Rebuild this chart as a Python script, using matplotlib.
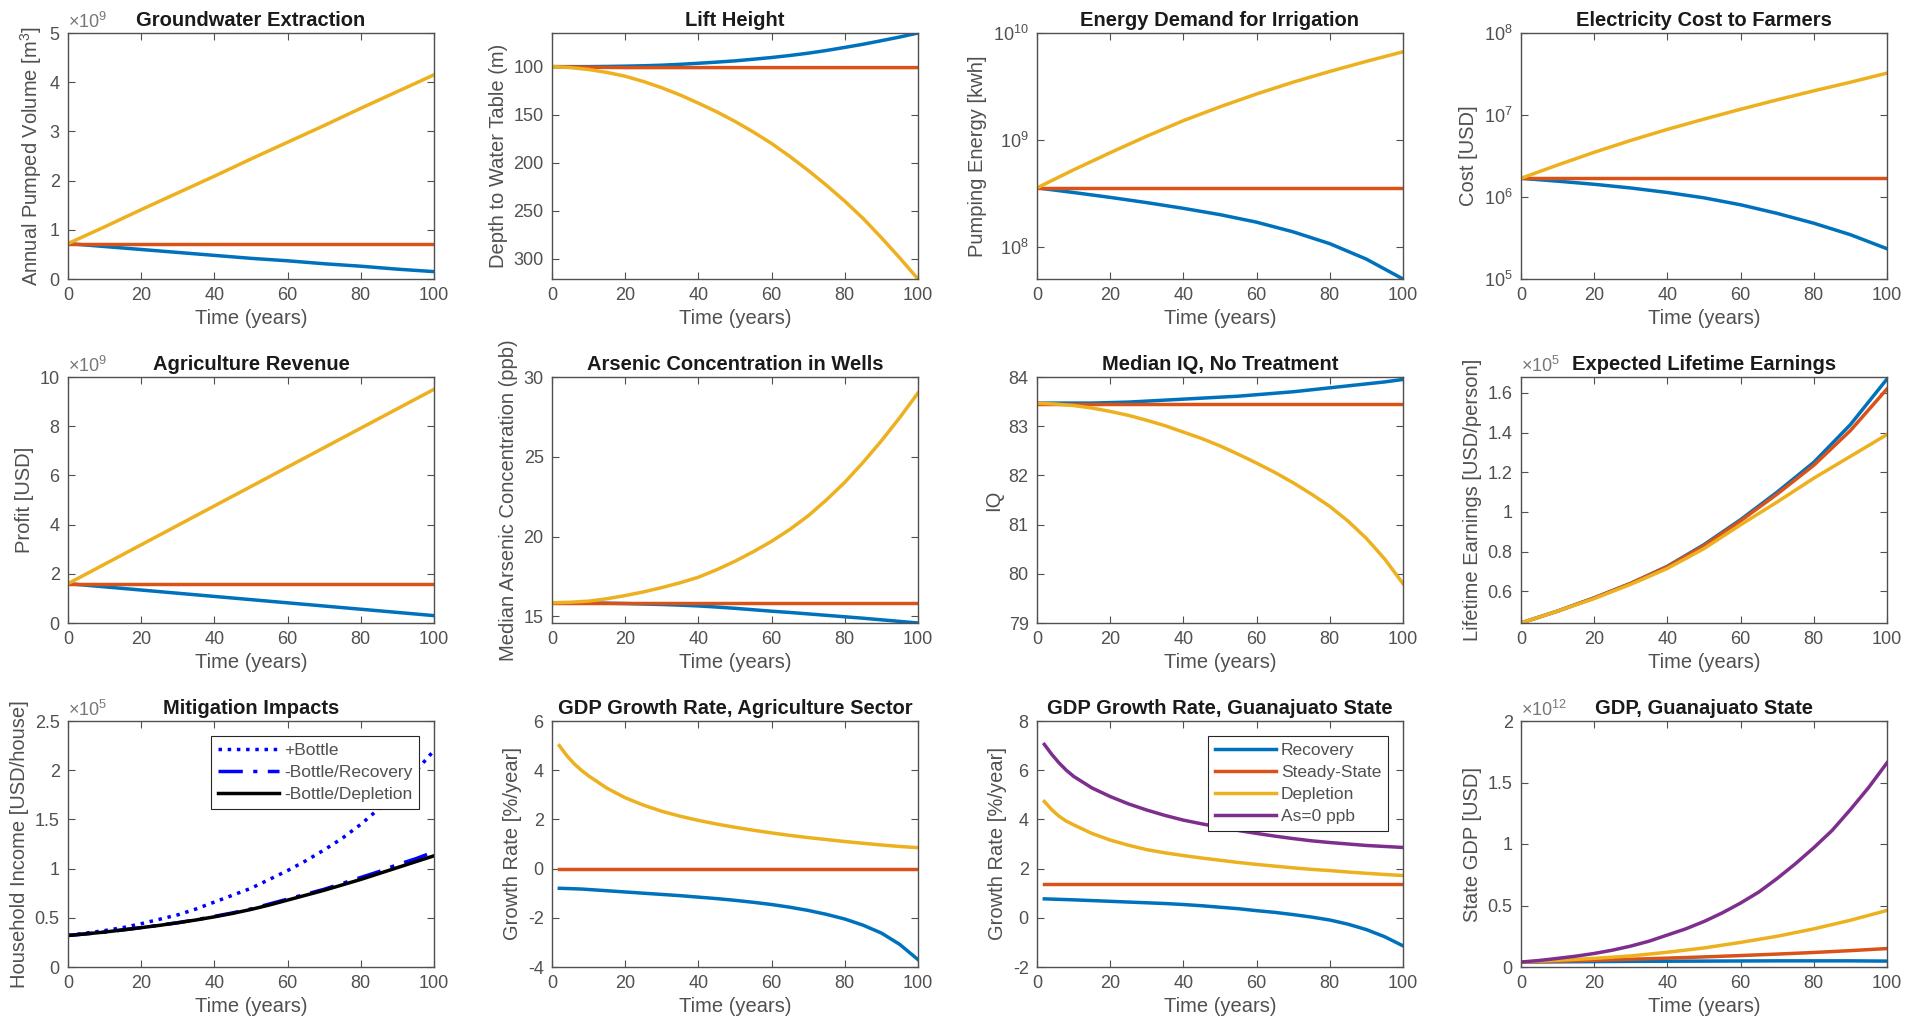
import numpy as np
import matplotlib
matplotlib.use('Agg')
import matplotlib.pyplot as plt
from matplotlib.ticker import FuncFormatter, NullLocator, FixedLocator

plt.rcParams['font.family'] = ['Liberation Sans', 'DejaVu Sans']
plt.rcParams['mathtext.fontset'] = 'custom'
plt.rcParams['mathtext.rm'] = 'Liberation Sans'
plt.rcParams['mathtext.it'] = 'Liberation Sans'

# MATLAB default line colours
BLUE = '#0072BD'
RED = '#D95319'
YELLOW = '#EDB120'
PURPLE = '#7E2F8E'
GREY = '#505050'

# time axes (years)
t = [0, 10, 20, 30, 40, 50, 60, 70, 80, 90, 100]
t5 = [0, 5, 10, 15, 20, 25, 30, 35, 40, 45, 50, 55, 60, 65, 70, 75, 80, 85, 90, 95, 100]
t_rate = [2, 4, 6, 8, 10, 15, 20, 25, 30, 35, 40, 45, 50, 55, 60, 65, 70, 75, 80, 85, 90, 95, 100]

# Groundwater Extraction (x1e9 m3)
pump_rec = [0.72, 0.66, 0.60, 0.54, 0.48, 0.42, 0.37, 0.31, 0.26, 0.20, 0.15]
pump_ss = [0.72, 0.72, 0.72, 0.72, 0.72, 0.72, 0.72, 0.72, 0.72, 0.72, 0.72]
pump_dep = [0.72, 1.06, 1.41, 1.75, 2.09, 2.44, 2.78, 3.12, 3.47, 3.81, 4.15]

# Lift Height (m), every 5 years
lift_rec = [100, 100, 100, 99.8, 99.5, 99.1, 98.5, 97.6, 96.5, 95.3, 94, 92.3, 90.5, 88.4,
            86, 83.2, 80, 76.7, 73, 69.2, 65]
lift_ss = [100, 100.3, 100.6, 100.8, 101, 101, 101, 101, 101, 101, 101, 101, 101, 101,
           101, 101, 101, 101, 101, 101, 101]
lift_dep = [100, 101, 103, 106, 110, 115.5, 122, 129.5, 138, 147, 157, 168, 180, 193.5,
            208, 223.5, 240, 258, 278, 299, 321]

# Energy Demand for Irrigation (kwh)
energy_rec = [3.56e8, 3.22e8, 2.90e8, 2.59e8, 2.29e8, 2.00e8, 1.70e8, 1.38e8, 1.07e8, 7.67e7, 5.0e7]
energy_ss = [3.56e8] * 11
energy_dep = [3.56e8, 5.25e8, 7.59e8, 1.084e9, 1.514e9, 2.04e9, 2.69e9, 3.47e9, 4.37e9, 5.43e9, 6.67e9]

# Electricity Cost to Farmers (USD)
cost_rec = [1.69e6, 1.56e6, 1.429e6, 1.288e6, 1.135e6, 9.77e5, 8.04e5, 6.31e5, 4.79e5, 3.47e5, 2.34e5]
cost_ss = [1.69e6] * 11
cost_dep = [1.69e6, 2.455e6, 3.51e6, 4.90e6, 6.68e6, 8.91e6, 1.175e7, 1.531e7, 1.972e7, 2.51e7, 3.24e7]

# Agriculture Revenue (x1e9 USD)
rev_rec = [1.6, 1.47, 1.34, 1.21, 1.08, 0.95, 0.82, 0.69, 0.56, 0.43, 0.30]
rev_ss = [1.6] * 11
rev_dep = [1.6, 2.39, 3.18, 3.97, 4.76, 5.55, 6.34, 7.13, 7.92, 8.71, 9.5]

# Arsenic Concentration in Wells (ppb), every 5 years
as_rec = [15.85, 15.85, 15.84, 15.82, 15.8, 15.77, 15.74, 15.7, 15.65, 15.58, 15.5, 15.41,
          15.32, 15.24, 15.15, 15.06, 14.97, 14.88, 14.78, 14.68, 14.58]
as_ss = [15.85] * 21
as_dep = [15.85, 15.88, 15.95, 16.1, 16.3, 16.53, 16.8, 17.1, 17.45, 17.92, 18.45, 19.05,
          19.7, 20.45, 21.3, 22.3, 23.4, 24.65, 26.0, 27.45, 29.0]

# Median IQ, No Treatment, every 5 years
iq_rec = [83.47, 83.47, 83.47, 83.47, 83.48, 83.49, 83.51, 83.53, 83.55, 83.57, 83.59, 83.61,
          83.64, 83.67, 83.70, 83.74, 83.78, 83.82, 83.86, 83.9, 83.95]
iq_ss = [83.45] * 21
iq_dep = [83.47, 83.45, 83.42, 83.37, 83.30, 83.22, 83.12, 83.01, 82.88, 82.75, 82.6, 82.43,
          82.25, 82.06, 81.85, 81.62, 81.37, 81.07, 80.72, 80.3, 79.8]

# Expected Lifetime Earnings (x1e5 USD/person)
earn_rec = [0.44, 0.50, 0.567, 0.64, 0.726, 0.835, 0.961, 1.10, 1.25, 1.44, 1.67]
earn_ss = [0.44, 0.50, 0.566, 0.64, 0.724, 0.83, 0.955, 1.09, 1.235, 1.41, 1.62]
earn_dep = [0.44, 0.50, 0.563, 0.635, 0.715, 0.815, 0.935, 1.05, 1.17, 1.28, 1.39]

# Mitigation Impacts (x1e5 USD/house), every 5 years
mit_labels = ['+Bottle', '-Bottle/Recovery', '-Bottle/Depletion']
mit_bottle = [0.32, 0.345, 0.37, 0.40, 0.44, 0.485, 0.53, 0.59, 0.66, 0.73, 0.80, 0.89,
              0.98, 1.08, 1.19, 1.31, 1.45, 1.61, 1.79, 1.99, 2.2]
mit_rec = [0.32, 0.337, 0.355, 0.377, 0.40, 0.425, 0.45, 0.48, 0.515, 0.55, 0.59, 0.64,
           0.69, 0.74, 0.79, 0.85, 0.91, 0.97, 1.04, 1.10, 1.17]
mit_dep = [0.32, 0.337, 0.355, 0.377, 0.40, 0.423, 0.45, 0.478, 0.51, 0.545, 0.585, 0.63,
           0.68, 0.73, 0.78, 0.835, 0.89, 0.95, 1.01, 1.07, 1.13]

# GDP Growth Rate, Agriculture Sector (%/year)
agr_rec = [-0.8, -0.81, -0.82, -0.83, -0.85, -0.9, -0.95, -1.0, -1.05, -1.1, -1.16, -1.22,
           -1.29, -1.37, -1.46, -1.57, -1.7, -1.86, -2.05, -2.3, -2.62, -3.08, -3.7]
agr_ss = [0.0] * 23
agr_dep = [5.0, 4.6, 4.27, 4.0, 3.77, 3.27, 2.88, 2.58, 2.33, 2.13, 1.96, 1.81, 1.68, 1.56,
           1.45, 1.35, 1.26, 1.18, 1.10, 1.03, 0.96, 0.9, 0.85]

# GDP Growth Rate, Guanajuato State (%/year)
scen_labels = ['Recovery', 'Steady-State', 'Depletion', 'As=0 ppb']
gto_rec = [0.77, 0.76, 0.75, 0.74, 0.73, 0.7, 0.67, 0.64, 0.61, 0.58, 0.54, 0.49, 0.43,
           0.37, 0.29, 0.22, 0.13, 0.03, -0.09, -0.26, -0.48, -0.77, -1.14]
gto_ss = [1.36] * 23
gto_dep = [4.73, 4.4, 4.13, 3.93, 3.78, 3.43, 3.16, 2.95, 2.77, 2.64, 2.53, 2.43, 2.34,
           2.25, 2.17, 2.1, 2.03, 1.97, 1.92, 1.86, 1.81, 1.76, 1.72]
gto_as0 = [7.05, 6.65, 6.3, 6.0, 5.75, 5.28, 4.93, 4.63, 4.38, 4.16, 3.97, 3.82, 3.68,
           3.55, 3.43, 3.32, 3.22, 3.13, 3.06, 3.0, 2.94, 2.9, 2.86]

# GDP, Guanajuato State (x1e12 USD)
gdp_rec = [0.04, 0.042, 0.044, 0.046, 0.047, 0.048, 0.049, 0.05, 0.05, 0.05, 0.048]
gdp_ss = [0.04, 0.047, 0.055, 0.063, 0.072, 0.082, 0.093, 0.105, 0.118, 0.133, 0.15]
gdp_dep = [0.04, 0.055, 0.07, 0.09, 0.12, 0.155, 0.2, 0.25, 0.31, 0.38, 0.46]
gdp_as0 = [0.04, 0.053, 0.07, 0.088, 0.11, 0.137, 0.17, 0.21, 0.26, 0.31, 0.37, 0.44,
           0.52, 0.61, 0.72, 0.84, 0.97, 1.11, 1.28, 1.46, 1.66]

LW = 2.5
fig = plt.figure(figsize=(19.07, 10.29), dpi=100)

col_left = [68, 552, 1037, 1521]
row_top = [33, 377, 721]
W, H = 366, 246


def make_axes(r, c, title, ylabel, scale=None):
    ax = fig.add_axes([col_left[c] / 1907, 1 - (row_top[r] + H) / 1029, W / 1907, H / 1029])
    ax.set_title(title, fontsize=14.5, fontweight='bold', color='#1a1a1a', pad=5)
    ax.set_xlabel('Time (years)', fontsize=14.5, color=GREY, labelpad=3)
    ax.set_ylabel(ylabel, fontsize=14.5, color=GREY, labelpad=4)
    ax.set_xlim(0, 100)
    ax.set_xticks([0, 20, 40, 60, 80, 100])
    ax.tick_params(direction='in', top=True, right=True, length=5, width=0.8,
                   labelsize=13, colors=GREY, pad=6)
    for s in ax.spines.values():
        s.set_color(GREY)
        s.set_linewidth(1.0)
    if scale is not None:
        ax.text(0, 1.005, r'$\times10^{%d}$' % scale, transform=ax.transAxes,
                ha='left', va='bottom', fontsize=13, color='#777777')
    return ax


def lin_ticks(ax, lo, hi, ticks):
    ax.set_ylim(lo, hi)
    ax.yaxis.set_major_locator(FixedLocator(ticks))
    ax.yaxis.set_major_formatter(FuncFormatter(lambda v, p: '%g' % round(v, 6)))


def log_ticks(ax, lo, hi):
    ax.set_yscale('log')
    ax.set_ylim(lo, hi)
    ax.yaxis.set_minor_locator(NullLocator())


def matlab_legend(ax):
    leg = ax.legend(loc='upper right', fontsize=12.5, fancybox=False, framealpha=1,
                    edgecolor='#262626', borderaxespad=0.85, handlelength=3.5,
                    handletextpad=0.3, labelspacing=0.4, borderpad=0.4)
    leg.get_frame().set_linewidth(0.8)
    for txt in leg.get_texts():
        txt.set_color(GREY)


# row 1
ax = make_axes(0, 0, 'Groundwater Extraction', 'Annual Pumped Volume [m$^3$]', 9)
ax.plot(t, pump_rec, color=BLUE, lw=LW)
ax.plot(t, pump_ss, color=RED, lw=LW)
ax.plot(t, pump_dep, color=YELLOW, lw=LW)
lin_ticks(ax, 0, 5, [0, 1, 2, 3, 4, 5])

ax = make_axes(0, 1, 'Lift Height', 'Depth to Water Table (m)')
ax.plot(t5, lift_rec, color=BLUE, lw=LW)
ax.plot(t5, lift_ss, color=RED, lw=LW)
ax.plot(t5, lift_dep, color=YELLOW, lw=LW)
lin_ticks(ax, 321, 65, [100, 150, 200, 250, 300])

ax = make_axes(0, 2, 'Energy Demand for Irrigation', 'Pumping Energy [kwh]')
ax.plot(t, energy_rec, color=BLUE, lw=LW)
ax.plot(t, energy_ss, color=RED, lw=LW)
ax.plot(t, energy_dep, color=YELLOW, lw=LW)
log_ticks(ax, 5e7, 1e10)

ax = make_axes(0, 3, 'Electricity Cost to Farmers', 'Cost [USD]')
ax.plot(t, cost_rec, color=BLUE, lw=LW)
ax.plot(t, cost_ss, color=RED, lw=LW)
ax.plot(t, cost_dep, color=YELLOW, lw=LW)
log_ticks(ax, 1e5, 1e8)

# row 2
ax = make_axes(1, 0, 'Agriculture Revenue', 'Profit [USD]', 9)
ax.plot(t, rev_rec, color=BLUE, lw=LW)
ax.plot(t, rev_ss, color=RED, lw=LW)
ax.plot(t, rev_dep, color=YELLOW, lw=LW)
lin_ticks(ax, 0, 10, [0, 2, 4, 6, 8, 10])

ax = make_axes(1, 1, 'Arsenic Concentration in Wells', 'Median Arsenic Concentration (ppb)')
ax.plot(t5, as_rec, color=BLUE, lw=LW)
ax.plot(t5, as_ss, color=RED, lw=LW)
ax.plot(t5, as_dep, color=YELLOW, lw=LW)
lin_ticks(ax, 14.58, 30, [15, 20, 25, 30])

ax = make_axes(1, 2, 'Median IQ, No Treatment', 'IQ')
ax.plot(t5, iq_rec, color=BLUE, lw=LW)
ax.plot(t5, iq_ss, color=RED, lw=LW)
ax.plot(t5, iq_dep, color=YELLOW, lw=LW)
lin_ticks(ax, 79, 84, [79, 80, 81, 82, 83, 84])

ax = make_axes(1, 3, 'Expected Lifetime Earnings', 'Lifetime Earnings [USD/person]', 5)
ax.plot(t, earn_rec, color=BLUE, lw=LW)
ax.plot(t, earn_ss, color=RED, lw=LW)
ax.plot(t, earn_dep, color=YELLOW, lw=LW)
lin_ticks(ax, 0.44, 1.68, [0.6, 0.8, 1.0, 1.2, 1.4, 1.6])

# row 3
ax = make_axes(2, 0, 'Mitigation Impacts', 'Household Income [USD/house]', 5)
ax.plot(t5, mit_bottle, color='b', lw=LW, ls=':', label=mit_labels[0])
ax.plot(t5, mit_rec, color='b', lw=LW, ls=(0, (7, 3, 1.2, 3)), label=mit_labels[1])
ax.plot(t5, mit_dep, color='k', lw=LW, label=mit_labels[2])
lin_ticks(ax, 0, 2.5, [0, 0.5, 1, 1.5, 2, 2.5])
matlab_legend(ax)

ax = make_axes(2, 1, 'GDP Growth Rate, Agriculture Sector', 'Growth Rate [%/year]')
ax.plot(t_rate, agr_rec, color=BLUE, lw=LW)
ax.plot(t_rate, agr_ss, color=RED, lw=LW)
ax.plot(t_rate, agr_dep, color=YELLOW, lw=LW)
lin_ticks(ax, -4, 6, [-4, -2, 0, 2, 4, 6])

ax = make_axes(2, 2, 'GDP Growth Rate, Guanajuato State', 'Growth Rate [%/year]')
ax.plot(t_rate, gto_rec, color=BLUE, lw=LW, label=scen_labels[0])
ax.plot(t_rate, gto_ss, color=RED, lw=LW, label=scen_labels[1])
ax.plot(t_rate, gto_dep, color=YELLOW, lw=LW, label=scen_labels[2])
ax.plot(t_rate, gto_as0, color=PURPLE, lw=LW, label=scen_labels[3])
lin_ticks(ax, -2, 8, [-2, 0, 2, 4, 6, 8])
matlab_legend(ax)

ax = make_axes(2, 3, 'GDP, Guanajuato State', 'State GDP [USD]', 12)
ax.plot(t, gdp_rec, color=BLUE, lw=LW)
ax.plot(t, gdp_ss, color=RED, lw=LW)
ax.plot(t, gdp_dep, color=YELLOW, lw=LW)
ax.plot(t5, gdp_as0, color=PURPLE, lw=LW)
lin_ticks(ax, 0, 2, [0, 0.5, 1, 1.5, 2])

plt.savefig('out.png', dpi=100)
plt.close()
